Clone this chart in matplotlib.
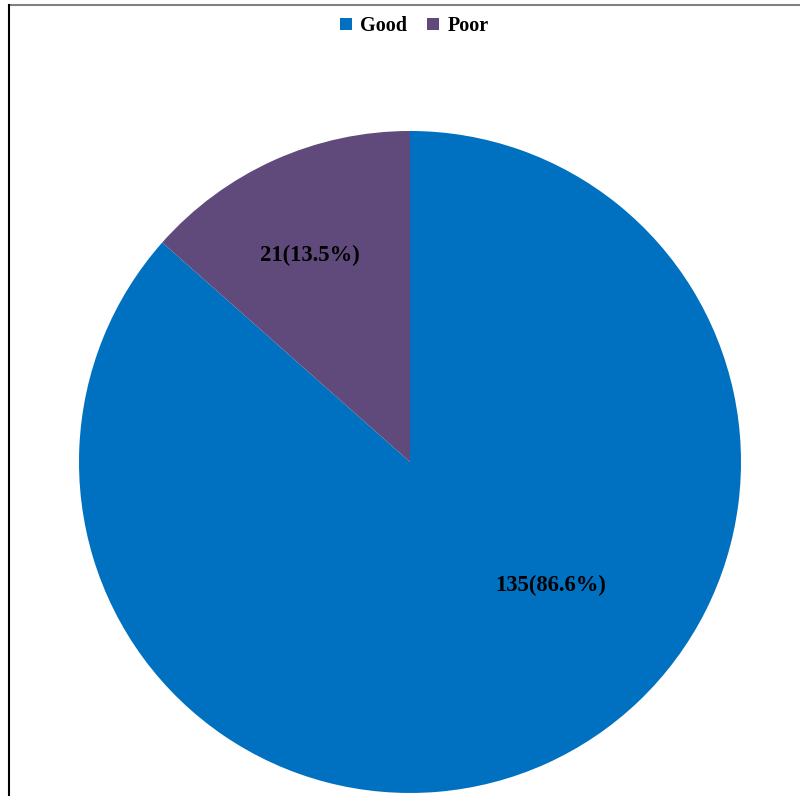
import matplotlib.pyplot as plt
from matplotlib.lines import Line2D
import numpy as np

plt.rcParams['font.family'] = ['Liberation Serif', 'DejaVu Serif']

categories = ["Good", "Poor"]
counts = [135, 21]
percents = [86.6, 13.5]
colors = ["#0070C0", "#604A7B"]

fig = plt.figure(figsize=(8, 7.96), dpi=100)
ax = fig.add_axes([0.09875, 0.00377, 0.8275, 0.8317])

wedges, _ = ax.pie(counts, colors=colors, startangle=90, counterclock=False,
                   radius=1, wedgeprops=dict(linewidth=0))
ax.set_xlim(-1, 1)
ax.set_ylim(-1, 1)
ax.set_aspect('equal')
ax.axis('off')

# data labels (Excel "best fit" placement)
label_pos = [(0.426, -0.372), (-0.302, 0.625)]
for (x, y), c, p in zip(label_pos, counts, percents):
    ax.text(x, y, f"{c}({p}%)", ha='center', va='center',
            fontsize=16.3, fontweight='bold', color='black')

fig.legend(wedges, categories, loc='upper center', bbox_to_anchor=(0.518, 0.995),
           ncol=2, frameon=False, prop={'weight': 'bold', 'size': 14.5},
           handlelength=0.6, handleheight=0.6, handletextpad=0.4, columnspacing=1.0,
           borderaxespad=0.2)

# chart area border
fig.add_artist(Line2D([9/800, 1], [1 - 5/796, 1 - 5/796], color='#808080', lw=1.5,
                      transform=fig.transFigure))
fig.add_artist(Line2D([9/800, 9/800], [0, 1 - 5/796], color='black', lw=1.5,
                      transform=fig.transFigure))

fig.savefig("out.png", dpi=100)
